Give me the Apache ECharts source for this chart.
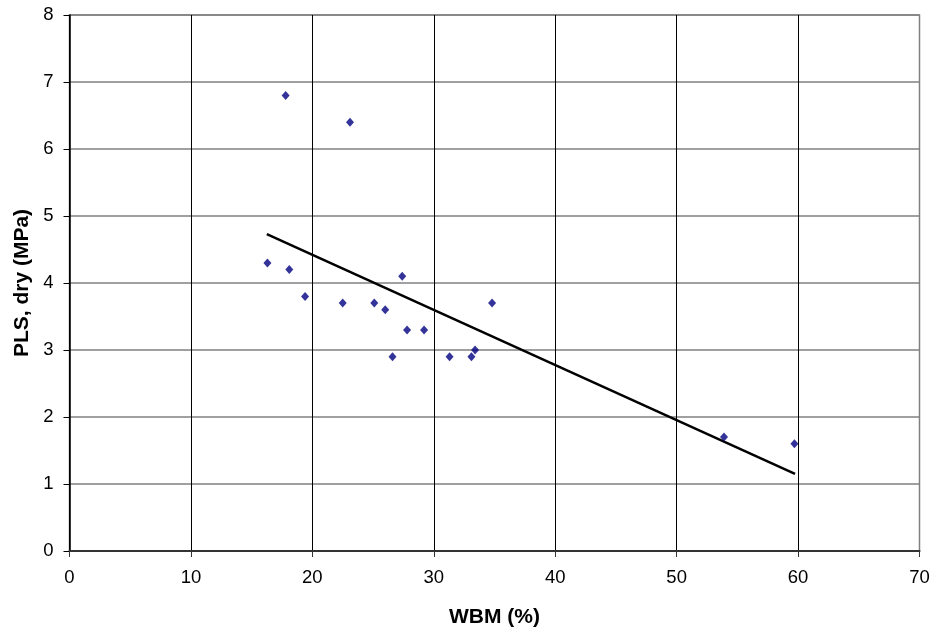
<!DOCTYPE html>
<html>
<head>
<meta charset="utf-8">
<script src="https://cdn.jsdelivr.net/npm/echarts@6/dist/echarts.min.js"></script>
<style>html,body{margin:0;padding:0;background:#fff;}#c{width:937px;height:636px;}</style>
</head>
<body>
<div id="c"></div>
<script>
var wbm = [16.3, 18.1, 17.8, 19.4, 23.1, 22.5, 25.1, 26.0, 27.4, 26.6, 27.8, 29.2, 31.3, 33.1, 33.4, 34.8, 53.9, 59.7];
var pls = [4.3, 4.2, 6.8, 3.8, 6.4, 3.7, 3.7, 3.6, 4.1, 2.9, 3.3, 3.3, 2.9, 2.9, 3.0, 3.7, 1.7, 1.6];
var trendX = [16.25, 59.75];
var trendY = [4.73, 1.15];
var xTicks = [0, 10, 20, 30, 40, 50, 60, 70];
var yTicks = [0, 1, 2, 3, 4, 5, 6, 7, 8];

var pts = wbm.map(function (x, i) { return [x, pls[i]]; });
var trend = trendX.map(function (x, i) { return [x, trendY[i]]; });
var font = 'Liberation Sans, Arial, sans-serif';
var chart = echarts.init(document.getElementById('c'), null, { renderer: 'canvas' });
chart.setOption({
  animation: false,
  backgroundColor: '#ffffff',
  grid: { left: 69.5, right: 17.5, top: 15, bottom: 85, show: true, borderColor: '#808080', borderWidth: 1.5, containLabel: false, outerBoundsMode: 'none' },
  xAxis: {
    type: 'value', min: xTicks[0], max: xTicks[xTicks.length - 1], interval: 10,
    name: 'WBM (%)', nameLocation: 'middle', nameGap: 56,
    nameTextStyle: { fontFamily: font, fontSize: 21, fontWeight: 'bold', color: '#000' },
    axisLine: { show: true, onZero: false, lineStyle: { color: '#333', width: 2 } },
    axisTick: { show: true, inside: false, length: 6, lineStyle: { color: '#333', width: 1 } },
    axisLabel: { fontFamily: font, fontSize: 18.5, color: '#000', margin: 17 },
    splitLine: { show: true, lineStyle: { color: ['#000', '#000', '#000', '#000', '#000', '#000', '#000', '#808080'], width: 1 } }
  },
  yAxis: {
    type: 'value', min: yTicks[0], max: yTicks[yTicks.length - 1], interval: 1,
    name: 'PLS, dry (MPa)', nameLocation: 'middle', nameGap: 37, nameRotate: 90,
    nameTextStyle: { fontFamily: font, fontSize: 21, fontWeight: 'bold', color: '#000' },
    axisLine: { show: true, onZero: false, lineStyle: { color: '#000', width: 1.5 } },
    axisTick: { show: true, inside: false, length: 6, lineStyle: { color: '#000', width: 1 } },
    axisLabel: { fontFamily: font, fontSize: 18.5, color: '#000', margin: 16 },
    splitLine: { show: true, lineStyle: { color: '#808080', width: 1.5 } }
  },
  series: [
    {
      type: 'line', data: trend, symbol: 'none', silent: true,
      lineStyle: { color: '#000', width: 2.5 }, z: 3
    },
    {
      type: 'scatter', data: pts, symbol: 'diamond', symbolSize: [8, 9],
      itemStyle: { color: '#000080' }, z: 4
    }
  ]
});
</script>
</body>
</html>
